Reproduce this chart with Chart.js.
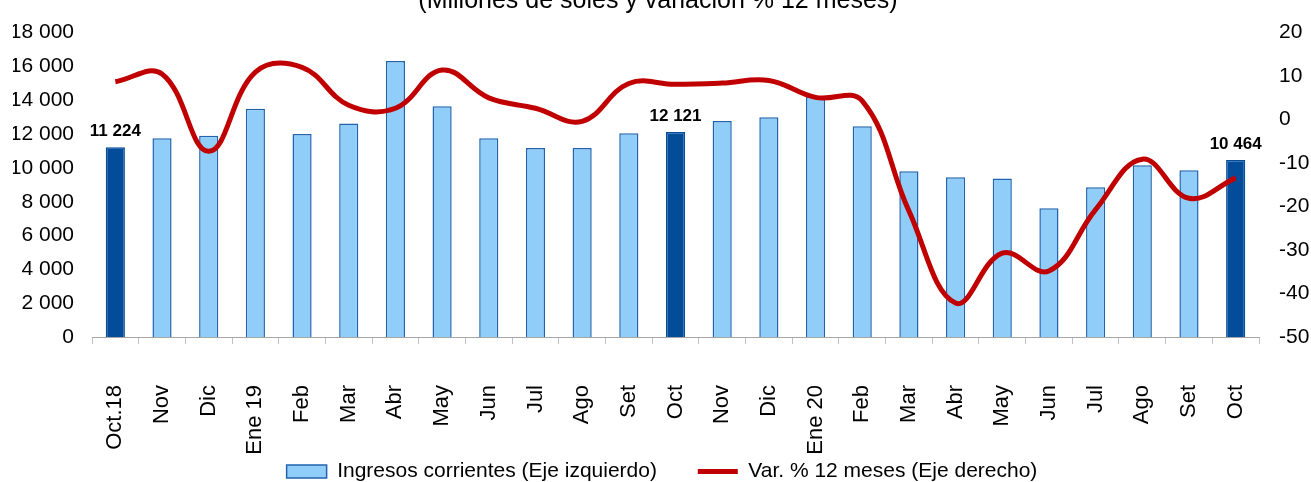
<!DOCTYPE html>
<html>
<head>
<meta charset="utf-8">
<script src="https://cdn.jsdelivr.net/npm/chart.js@4.4.1/dist/chart.umd.min.js"></script>
<style>
  html, body { margin: 0; padding: 0; background: #fff; }
  #wrap { width: 1311px; height: 482px; position: relative; }
</style>
</head>
<body>
<div id="wrap"><canvas id="chart"></canvas></div>
<script>
// datos
const meses = ['Oct.18', 'Nov', 'Dic', 'Ene 19', 'Feb', 'Mar', 'Abr', 'May', 'Jun', 'Jul', 'Ago', 'Set',
    'Oct', 'Nov', 'Dic', 'Ene 20', 'Feb', 'Mar', 'Abr', 'May', 'Jun', 'Jul', 'Ago', 'Set', 'Oct'];

const ingresos = [11224, 11750, 11900, 13500, 12000, 12630, 16320, 13650, 11750, 11180, 11180, 12050,
    12121, 12770, 13000, 14200, 12460, 9800, 9440, 9370, 7620, 8850, 10150, 9860, 10464];

const variacion = [8.7, 10.5, -7.3, 10.9, 12.0, 3.3, 2.6, 11.4, 5.0, 2.6, -0.4, 8.3,
    8.1, 8.4, 9.0, 5.1, 4.3, -21.0, -42.2, -30.7, -34.8, -20.7, -9.1, -18.1, -13.4];

// barras resaltadas (con etiqueta de dato)
const destacados = [0, 12, 24];

const ticksIzq = [0, 2000, 4000, 6000, 8000, 10000, 12000, 14000, 16000, 18000];
const ticksDer = [-50, -40, -30, -20, -10, 0, 10, 20];

const titulo = '(Millones de soles y variación % 12 meses)';
const nombreBarras = 'Ingresos corrientes (Eje izquierdo)';
const nombreLinea = 'Var. % 12 meses (Eje derecho)';

const azulClaro = '#90CDF8';
const azulBorde = '#2263AE';
const azulOscuro = '#034C9A';
const rojo = '#C00000';
const fuente = 'Arial, "Liberation Sans", sans-serif';

function miles(v) {
    return String(v).replace(/\B(?=(\d{3})+(?!\d))/g, ' ');
}

const fondos = meses.map((m, i) => destacados.includes(i) ? azulOscuro : azulClaro);
const bordes = meses.map((m, i) => destacados.includes(i) ? azulOscuro : azulBorde);

const tituloPlugin = {
    id: 'tituloCortado',
    afterDraw(chart) {
        const ctx = chart.ctx;
        ctx.save();
        ctx.font = '25px ' + fuente;
        ctx.fillStyle = '#000';
        ctx.textAlign = 'center';
        ctx.textBaseline = 'alphabetic';
        ctx.fillText(titulo, 658, 8);
        ctx.restore();
    }
};

const etiquetasPlugin = {
    id: 'etiquetas',
    afterDatasetsDraw(chart) {
        const ctx = chart.ctx;
        const meta = chart.getDatasetMeta(0);
        ctx.save();
        ctx.font = 'bold 17px ' + fuente;
        ctx.fillStyle = '#000';
        ctx.textAlign = 'center';
        ctx.textBaseline = 'alphabetic';
        destacados.forEach(i => {
            const bar = meta.data[i];
            ctx.fillText(miles(ingresos[i]), bar.x, bar.y - 11);
        });
        ctx.restore();
    }
};

const data = {
    labels: meses,
    datasets: [{
        type: 'bar',
        label: nombreBarras,
        data: ingresos,
        backgroundColor: fondos,
        borderColor: bordes,
        borderWidth: 1.5,
        barPercentage: 0.41,
        categoryPercentage: 1,
        yAxisID: 'y',
        order: 2
    }, {
        type: 'line',
        label: nombreLinea,
        data: variacion,
        borderColor: rojo,
        backgroundColor: rojo,
        borderWidth: 5,
        pointRadius: 0,
        tension: 0.4,
        yAxisID: 'y2',
        order: 1
    }]
};

const config = {
    type: 'bar',
    data: data,
    options: {
        responsive: true,
        maintainAspectRatio: false,
        animation: false,
        layout: {
            padding: { top: 23, left: 13, right: 0, bottom: -10 }
        },
        plugins: {
            tooltip: { enabled: false },
            legend: {
                position: 'bottom',
                labels: {
                    usePointStyle: true,
                    pointStyleWidth: 40,
                    boxHeight: 13,
                    padding: 0,
                    color: '#000',
                    font: { family: fuente, size: 21 },
                    generateLabels: () => [{
                        text: nombreBarras + '\u00A0'.repeat(7),
                        fillStyle: azulClaro,
                        strokeStyle: azulBorde,
                        lineWidth: 1.5,
                        pointStyle: 'rect',
                        fontColor: '#000',
                        datasetIndex: 0
                    }, {
                        text: nombreLinea,
                        fillStyle: rojo,
                        strokeStyle: rojo,
                        lineWidth: 5,
                        pointStyle: 'line',
                        fontColor: '#000',
                        datasetIndex: 1
                    }]
                }
            }
        },
        scales: {
            x: {
                afterFit: s => { s.height = 124; },
                grid: {
                    display: true,
                    drawOnChartArea: false,
                    drawTicks: true,
                    tickLength: 7,
                    offset: true,
                    color: '#C0C0C0'
                },
                border: { display: true, color: '#A6A6A6', width: 1 },
                ticks: {
                    autoSkip: false,
                    maxRotation: 90,
                    minRotation: 90,
                    padding: 41,
                    color: '#000',
                    font: { family: fuente, size: 22 }
                }
            },
            y: {
                position: 'left',
                min: 0,
                max: 18000,
                afterFit: s => { s.width = 79; },
                afterBuildTicks: s => { s.ticks = ticksIzq.map(v => ({ value: v })); },
                grid: { display: false, drawTicks: false },
                border: { display: false },
                ticks: {
                    padding: 18,
                    color: '#000',
                    font: { family: fuente, size: 21 },
                    callback: v => miles(v)
                }
            },
            y2: {
                position: 'right',
                min: -50,
                max: 20,
                afterFit: s => { s.width = 52; },
                afterBuildTicks: s => { s.ticks = ticksDer.map(v => ({ value: v })); },
                grid: { display: false, drawTicks: false },
                border: { display: false },
                ticks: {
                    padding: 20,
                    color: '#000',
                    font: { family: fuente, size: 21 }
                }
            }
        }
    },
    plugins: [tituloPlugin, etiquetasPlugin]
};

new Chart(document.getElementById('chart'), config);
</script>
</body>
</html>
